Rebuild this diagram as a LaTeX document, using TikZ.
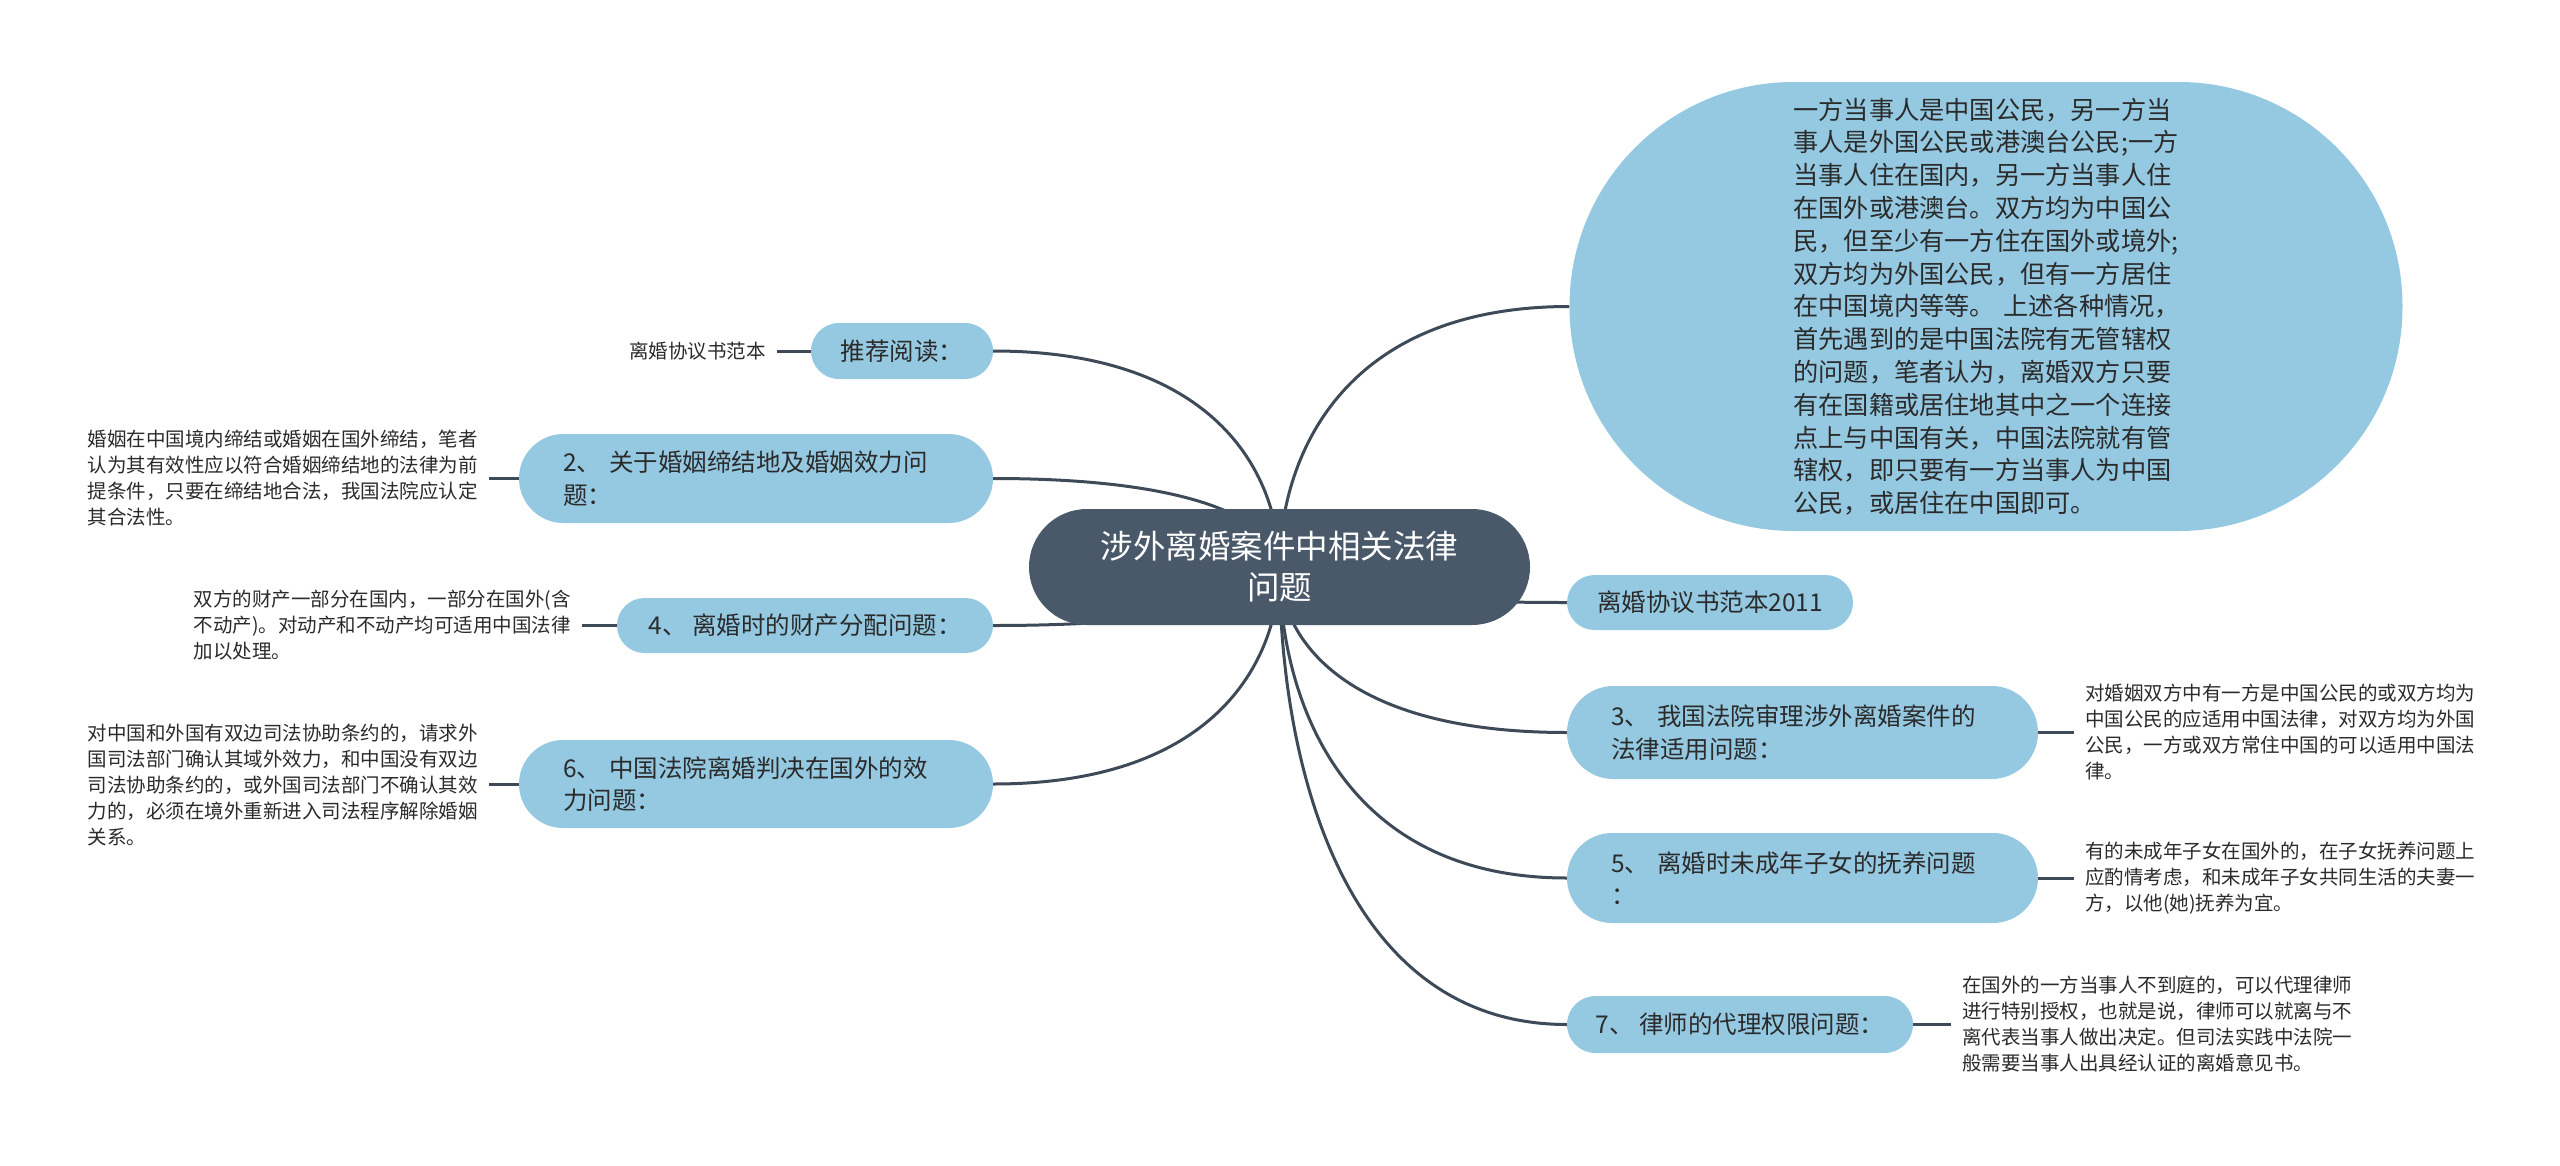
\documentclass[tikz,border=0pt]{standalone}
\usepackage{fontspec}
\setmainfont{Noto Sans CJK SC}
\usetikzlibrary{calc,backgrounds}
\definecolor{rootfill}{HTML}{4A5969}
\definecolor{childfill}{HTML}{95C9E2}
\definecolor{linkcol}{HTML}{3E4A57}
\definecolor{txtcol}{HTML}{2B2B2B}
\tikzset{
  rootnode/.style={fill=rootfill, text=white, rounded corners=58pt, minimum width=501pt,
    minimum height=116pt, inner sep=0pt, font=\fontsize{32.5}{41}\selectfont, align=center},
  topic/.style={fill=childfill, text=txtcol, inner sep=0pt, font=\fontsize{24.5}{32.6}\selectfont},
  topictwo/.style={topic, align=left, inner xsep=44pt},
  leaf/.style={text=txtcol, inner xsep=11pt, inner ysep=0pt, font=\fontsize{19.5}{26}\selectfont, align=left},
  link/.style={draw=linkcol, line width=3pt},
}
\newcommand\mmlink[2]{%
  \draw[link] let \p1=(root.center), \p2=(#1.#2) in
    (\p1) .. controls (\x1,{\y1+0.4*(\y2-\y1)}) and ({\x1+0.2*(\x2-\x1)},\y2) .. (\p2);}
\begin{document}
\begin{tikzpicture}[x=1pt,y=-1pt]
\useasboundingbox (0,0) rectangle (2560,1165);

% root
\node[rootnode] (root) at (1279.5,567) {涉外离婚案件中相关法律\\问题};

% right side
\node[topic, rounded corners=224pt, minimum width=833pt, minimum height=449pt,
      text width=385pt, align=left, font=\fontsize{25.2}{32.8}\selectfont] (b1) at (1986,306.5)
 {一方当事人是中国公民，另一方当\\
  事人是外国公民或港澳台公民;一方\\
  当事人住在国内，另一方当事人住\\
  在国外或港澳台。双方均为中国公\\
  民，但至少有一方住在国外或境外;\\
  双方均为外国公民，但有一方居住\\
  \mbox{在中国境内等等。 上述各种情况，}\\
  首先遇到的是中国法院有无管辖权\\
  的问题，笔者认为，离婚双方只要\\
  有在国籍或居住地其中之一个连接\\
  点上与中国有关，中国法院就有管\\
  辖权，即只要有一方当事人为中国\\
  公民，或居住在中国即可。};

\node[topic, rounded corners=27.5pt, minimum width=286pt, minimum height=55pt] (n2011) at (1710,602.5) {离婚协议书范本2011};

\node[topictwo, rounded corners=46.5pt, text width=383pt, minimum height=93pt] (n3) at (1802.5,732.5)
 {3、 我国法院审理涉外离婚案件的\\法律适用问题：};
\node[leaf, anchor=west] (l3) at (2074,732.5)
 {对婚姻双方中有一方是中国公民的或双方均为\\
  中国公民的应适用中国法律，对双方均为外国\\
  公民，一方或双方常住中国的可以适用中国法\\
  律。};

\node[topictwo, rounded corners=45pt, text width=383pt, minimum height=90pt] (n5) at (1802.5,878)
 {5、 离婚时未成年子女的抚养问题\\：};
\node[leaf, anchor=west] (l5) at (2074,878)
 {有的未成年子女在国外的，在子女抚养问题上\\
  应酌情考虑，和未成年子女共同生活的夫妻一\\
  方，以他(她)抚养为宜。};

\node[topic, rounded corners=28.5pt, minimum width=346pt, minimum height=57pt] (n7) at (1740,1024.5) {7、 律师的代理权限问题：};
\node[leaf, anchor=west] (l7) at (1951,1024.5)
 {在国外的一方当事人不到庭的，可以代理律师\\
  进行特别授权，也就是说，律师可以就离与不\\
  离代表当事人做出决定。但司法实践中法院一\\
  般需要当事人出具经认证的离婚意见书。};

% left side
\node[topic, rounded corners=28pt, minimum width=182pt, minimum height=56pt] (ntj) at (902,351) {推荐阅读：};
\node[leaf, anchor=east] (ltj) at (777,351) {离婚协议书范本};

\node[topictwo, rounded corners=44.5pt, text width=386pt, minimum height=89pt] (n2) at (756,478.5)
 {2、 关于婚姻缔结地及婚姻效力问\\题：};
\node[leaf, anchor=east] (l2) at (489,478.5)
 {婚姻在中国境内缔结或婚姻在国外缔结，笔者\\
  认为其有效性应以符合婚姻缔结地的法律为前\\
  提条件，只要在缔结地合法，我国法院应认定\\
  其合法性。};

\node[topic, rounded corners=27.5pt, minimum width=376pt, minimum height=55pt] (n4) at (805,625.5) {4、 离婚时的财产分配问题：};
\node[leaf, anchor=east] (l4) at (582,625.5)
 {双方的财产一部分在国内，一部分在国外(含\\
  不动产)。对动产和不动产均可适用中国法律\\
  加以处理。};

\node[topictwo, rounded corners=44pt, text width=386pt, minimum height=88pt] (n6) at (756,784)
 {6、 中国法院离婚判决在国外的效\\力问题：};
\node[leaf, anchor=east] (l6) at (489,785)
 {对中国和外国有双边司法协助条约的，请求外\\
  国司法部门确认其域外效力，和中国没有双边\\
  司法协助条约的，或外国司法部门不确认其效\\
  力的，必须在境外重新进入司法程序解除婚姻\\
  关系。};

\begin{scope}[on background layer]
  \fill[white] (0,0) rectangle (2560,1165);
  \mmlink{b1}{west}
  \mmlink{n2011}{west}
  \mmlink{n3}{west}
  \mmlink{n5}{west}
  \mmlink{n7}{west}
  \mmlink{ntj}{east}
  \mmlink{n2}{east}
  \mmlink{n4}{east}
  \mmlink{n6}{east}
  \draw[link] (n3.east) -- (l3.west);
  \draw[link] (n5.east) -- (l5.west);
  \draw[link] (n7.east) -- (l7.west);
  \draw[link] (ntj.west) -- (ltj.east);
  \draw[link] (n2.west) -- (l2.east |- n2.west);
  \draw[link] (n4.west) -- (l4.east);
  \draw[link] (n6.west) -- (l6.east |- n6.west);
\end{scope}
\end{tikzpicture}
\end{document}
